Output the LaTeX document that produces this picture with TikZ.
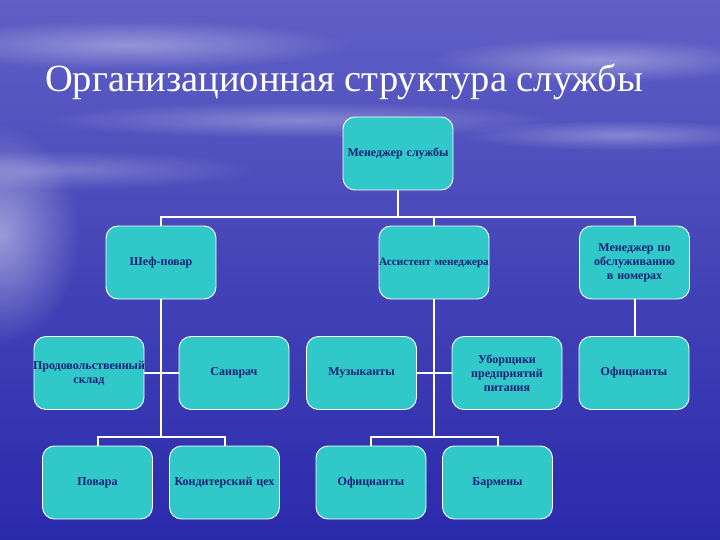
\documentclass[tikz,border=0pt]{standalone}
\usepackage{fontspec}
\setmainfont{Liberation Serif}
\usetikzlibrary{fadings}
\tikzfading[name=softedge, inner color=transparent!0, outer color=transparent!100]
\definecolor{bgtop}{RGB}{96,96,198}
\definecolor{bgmid}{RGB}{68,68,184}
\definecolor{bgbot}{RGB}{42,42,172}
\definecolor{boxc}{RGB}{48,200,200}
\definecolor{navy}{RGB}{22,30,120}
\tikzset{
  orgbox/.style={rectangle, rounded corners=12bp, fill=boxc, draw=white, line width=0.9bp,
    minimum width=110bp, minimum height=73bp, text width=108bp, align=center, inner xsep=1bp, inner ysep=0pt,
    text=navy, font=\fontsize{12bp}{14bp}\selectfont\bfseries},
  conn/.style={draw=white, line width=2bp},
  cloud/.style={fill=white, path fading=softedge}
}
\begin{document}
\begin{tikzpicture}[x=1bp,y=-1bp]
\useasboundingbox (0,0) rectangle (720,540);
% background
\shade[top color=bgtop, bottom color=bgbot, middle color=bgmid] (0,0) rectangle (720,540);
\fill[cloud, opacity=0.35] (130,45) ellipse (220 and 25);
\fill[cloud, opacity=0.35] (600,60) ellipse (170 and 22);
\fill[cloud, opacity=0.3] (300,120) ellipse (260 and 18);
\fill[cloud, opacity=0.3] (620,135) ellipse (160 and 15);
\fill[cloud, opacity=0.45] (0,235) ellipse (80 and 110);
\fill[cloud, opacity=0.25] (60,170) ellipse (200 and 20);
% title
\node (title) [anchor=base west, text=white, font=\fontsize{38.5bp}{44bp}\selectfont, inner sep=0pt] at (45,92) {Организационная структура службы};
% boxes
\node[orgbox] (top) at (398,153.5) {Менеджер службы};
\node[orgbox] (chef) at (161,262.5) {Шеф-повар};
\node[orgbox, font=\fontsize{11.2bp}{14bp}\selectfont\bfseries] (asst) at (434,262.5) {\makebox[108bp]{Ассистент менеджера}};
\node[orgbox] (mgr) at (634.5,262.5) {Менеджер по\\обслуживанию\\в номерах};
\node[orgbox] (sklad) at (89,373) {\makebox[108bp]{Продовольственный}\\склад};
\node[orgbox] (sanv) at (234,373) {Санврач};
\node[orgbox] (muz) at (361.5,373) {Музыканты};
\node[orgbox] (ubor) at (507,373) {Уборщики\\предприятий\\питания};
\node[orgbox] (ofic1) at (634,373) {Официанты};
\node[orgbox] (povara) at (97.5,482.5) {Повара};
\node[orgbox] (kond) at (224.5,482.5) {Кондитерский цех};
\node[orgbox] (ofic2) at (371,482.5) {Официанты};
\node[orgbox] (barm) at (497.5,482.5) {Бармены};
% buses
\coordinate (bus1) at (0,217);
\coordinate (bus2) at (0,437);
\draw[conn] (top.south) -- (top.south |- bus1);
\draw[conn] (chef.north) -- (chef.north |- bus1) -- (mgr.north |- bus1) -- (mgr.north);
\draw[conn] (asst.north) -- (asst.north |- bus1);
\draw[conn] (chef.south) -- (chef.south |- bus2);
\draw[conn] (povara.north) -- (povara.north |- bus2) -- (kond.north |- bus2) -- (kond.north);
\draw[conn] (sklad.east) -- (sanv.west);
\draw[conn] (asst.south) -- (asst.south |- bus2);
\draw[conn] (ofic2.north) -- (ofic2.north |- bus2) -- (barm.north |- bus2) -- (barm.north);
\draw[conn] (muz.east) -- (ubor.west);
\draw[conn] (mgr.south) -- (mgr.south |- ofic1.north);
\end{tikzpicture}
\end{document}
